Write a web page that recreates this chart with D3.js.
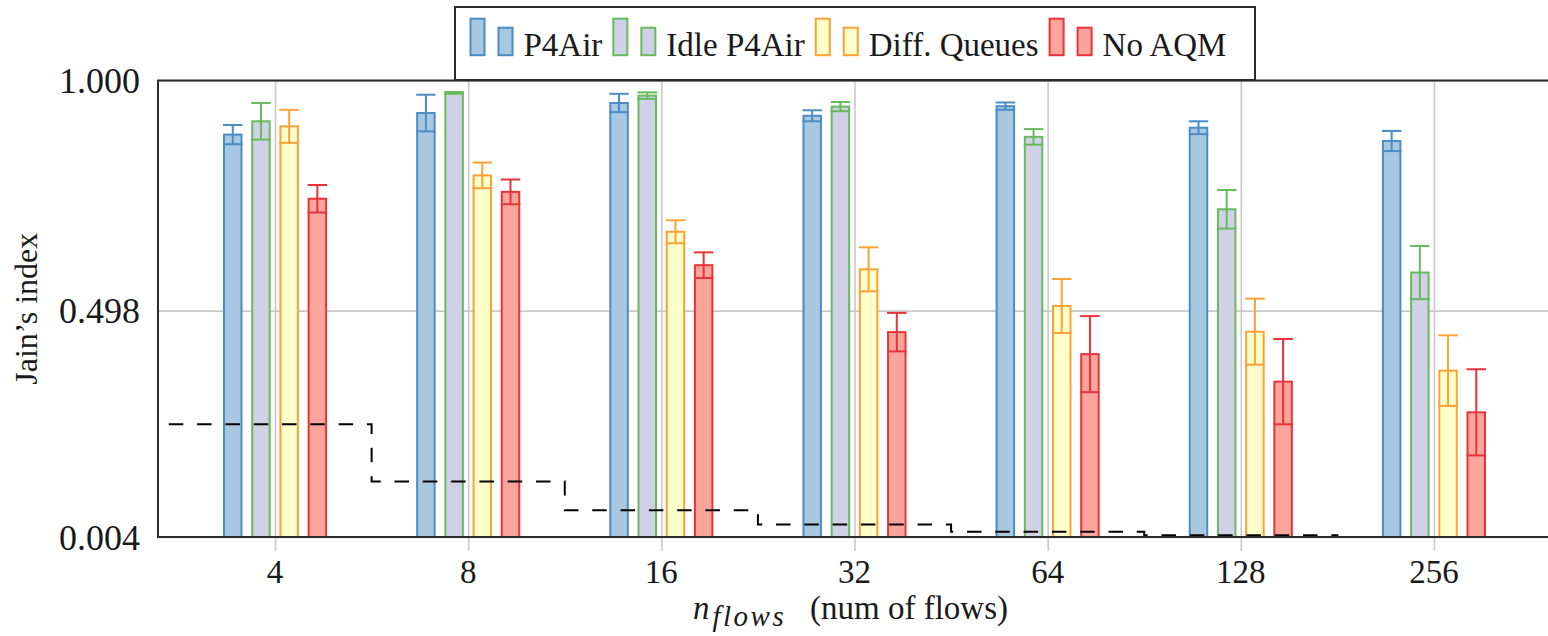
<!DOCTYPE html>
<html>
<head>
<meta charset="utf-8">
<script src="https://cdn.jsdelivr.net/npm/d3@7"></script>
<style>
  html, body { margin: 0; padding: 0; background: #fff; }
  svg text { font-family: "Liberation Serif", "Times New Roman", Times, "DejaVu Serif", serif; }
</style>
</head>
<body>
<svg id="chart" width="1548" height="636"></svg>
<script>
// Jain's fairness index per number of concurrent flows
const categories = ["4", "8", "16", "32", "64", "128", "256"];
const seriesNames = ["P4Air", "Idle P4Air", "Diff. Queues", "No AQM"];

const p4air     = [0.882, 0.929, 0.951, 0.923, 0.944, 0.897, 0.868];
const p4airErr  = [0.021, 0.040, 0.020, 0.012, 0.008, 0.014, 0.022];
const idle      = [0.911, 0.973, 0.967, 0.943, 0.877, 0.719, 0.581];
const idleErr   = [0.040, 0.002, 0.007, 0.010, 0.017, 0.042, 0.058];
const diffq     = [0.900, 0.793, 0.670, 0.588, 0.508, 0.452, 0.367];
const diffqErr  = [0.036, 0.028, 0.025, 0.048, 0.059, 0.072, 0.077];
const noaqm     = [0.742, 0.757, 0.597, 0.451, 0.403, 0.343, 0.276];
const noaqmErr  = [0.030, 0.027, 0.028, 0.042, 0.083, 0.093, 0.094];

// lower bound of the index (1/n) for each flow count
const fairMin   = [0.25, 0.125, 0.0625, 0.03125, 0.015625, 0.0078125, 0.00390625];

const yTicks = [0.004, 0.498, 1.000];

const styles = [
  { fill: "#a8c8e1", stroke: "#4b8cc5" },
  { fill: "#d0d0e6", stroke: "#67bb5e" },
  { fill: "#ffffcb", stroke: "#ffa032" },
  { fill: "#fca59c", stroke: "#e8333a" }
];

const values = [p4air, idle, diffq, noaqm];
const errors = [p4airErr, idleErr, diffqErr, noaqmErr];

const FONT = "'Liberation Serif', 'Times New Roman', Times, 'DejaVu Serif', serif";
const textColor = "#1a1a1a";

const svg = d3.select("#chart");
const margin = { left: 158, right: 1551, top: 80.5, bottom: 537 };

const x = d3.scalePoint().domain(categories).range([margin.left, margin.right]).padding(0.606);
const step = x.step();
const xs = d3.scaleBand().domain(seriesNames).range([-step * 0.292, step * 0.292])
  .paddingInner(0.38).paddingOuter(0.19);
const y = d3.scaleLinear().domain([0.004, 1.0]).range([margin.bottom, margin.top]);

const gridColor = "#c9c9c9";

// clip region for the plot
svg.append("defs").append("clipPath").attr("id", "plotClip")
  .append("rect")
  .attr("x", margin.left).attr("y", margin.top)
  .attr("width", margin.right - margin.left).attr("height", margin.bottom - margin.top);

// vertical grid + outward tick marks
const xAxis = d3.axisBottom(x).tickSize(-(margin.bottom - margin.top)).tickSizeOuter(0).tickFormat("");
svg.append("g").attr("transform", `translate(0,${margin.bottom})`).call(xAxis)
  .call(g => g.select(".domain").remove())
  .call(g => g.selectAll(".tick line").attr("stroke", gridColor).attr("stroke-width", 1.6)
    .attr("y1", 14));

// horizontal grid
const yGrid = d3.axisLeft(y).tickValues(yTicks).tickSize(-(margin.right - margin.left)).tickFormat("");
svg.append("g").attr("transform", `translate(${margin.left},0)`).call(yGrid)
  .call(g => g.select(".domain").remove())
  .call(g => g.selectAll(".tick line").attr("stroke", gridColor).attr("stroke-width", 1.6));

// bars with error bars
seriesNames.forEach((name, si) => {
  const g = svg.append("g").attr("class", "series");
  const bw = xs.bandwidth();
  const data = categories.map((c, i) => ({ c, v: values[si][i], e: errors[si][i] }));
  g.selectAll("rect").data(data).join("rect")
    .attr("x", d => x(d.c) + xs(name))
    .attr("y", d => y(d.v))
    .attr("width", bw)
    .attr("height", d => y(0.004) - y(d.v))
    .attr("fill", styles[si].fill)
    .attr("stroke", styles[si].stroke)
    .attr("stroke-width", 2);
  const eb = g.selectAll("g.err").data(data).join("g").attr("class", "err")
    .attr("stroke", styles[si].stroke).attr("stroke-width", 2).attr("fill", "none");
  const cx = d => x(d.c) + xs(name) + bw / 2;
  eb.append("line").attr("x1", cx).attr("x2", cx)
    .attr("y1", d => y(d.v + d.e)).attr("y2", d => y(d.v - d.e));
  eb.append("line").attr("x1", d => cx(d) - bw / 2 - 1).attr("x2", d => cx(d) + bw / 2 + 1)
    .attr("y1", d => y(d.v + d.e)).attr("y2", d => y(d.v + d.e));
  eb.append("line").attr("x1", d => cx(d) - bw / 2 - 1).attr("x2", d => cx(d) + bw / 2 + 1)
    .attr("y1", d => y(d.v - d.e)).attr("y2", d => y(d.v - d.e));
});

// 1/n step line
const stepPts = [[x(categories[0]) - step * 0.55, fairMin[0]]];
for (let i = 1; i < categories.length; i++) {
  stepPts.push([(x(categories[i - 1]) + x(categories[i])) / 2, fairMin[i]]);
}
stepPts.push([margin.right, fairMin[fairMin.length - 1]]);
const stepLine = d3.line().x(d => d[0]).y(d => y(d[1])).curve(d3.curveStepAfter);
svg.append("path").attr("clip-path", "url(#plotClip)")
  .attr("d", stepLine(stepPts))
  .attr("fill", "none").attr("stroke", "#000").attr("stroke-width", 2)
  .attr("stroke-dasharray", "14.5,13.8");

// axis frame
const frame = "#2b2b2b";
svg.append("path")
  .attr("d", `M${margin.right},${margin.top}H${margin.left}V${margin.bottom}H${margin.right}`)
  .attr("fill", "none").attr("stroke", frame).attr("stroke-width", 2);

// tick labels
svg.append("g").selectAll("text").data(categories).join("text")
  .attr("font-family", FONT)
  .attr("x", d => x(d)).attr("y", 583)
  .attr("text-anchor", "middle").attr("font-size", 33).attr("fill", textColor)
  .text(d => d);
svg.append("g").selectAll("text").data(yTicks).join("text")
  .attr("font-family", FONT)
  .attr("x", 140).attr("y", d => y(d)).attr("dy", "0.35em")
  .attr("text-anchor", "end").attr("font-size", 36).attr("fill", textColor)
  .text(d => d3.format(".3f")(d));

// axis titles
svg.append("text")
  .attr("font-family", FONT)
  .attr("transform", `translate(37,${(margin.top + margin.bottom) / 2}) rotate(-90)`)
  .attr("text-anchor", "middle").attr("font-size", 32).attr("fill", textColor)
  .text("Jain\u2019s index");

const xl = svg.append("text").attr("font-family", FONT)
  .attr("x", 693).attr("y", 619)
  .attr("font-size", 33).attr("fill", textColor);
xl.append("tspan").attr("font-style", "italic").text("n");
xl.append("tspan").attr("font-style", "italic").attr("font-size", 29)
  .attr("letter-spacing", 2.5).attr("dx", 3).attr("dy", 7).text("flows");
xl.append("tspan").attr("x", 810).attr("dy", -7).text("(num of flows)");

// legend
const leg = svg.append("g");
leg.append("rect")
  .attr("x", 455).attr("y", 7).attr("width", 800).attr("height", 73)
  .attr("fill", "#fff").attr("stroke", frame).attr("stroke-width", 2);
let cursor = 470.5;
seriesNames.forEach((name, si) => {
  leg.append("rect").attr("x", cursor).attr("y", 18.7).attr("width", 14).attr("height", 36.5)
    .attr("fill", styles[si].fill).attr("stroke", styles[si].stroke).attr("stroke-width", 2);
  leg.append("rect").attr("x", cursor + 28).attr("y", 27.7).attr("width", 14).attr("height", 27.5)
    .attr("fill", styles[si].fill).attr("stroke", styles[si].stroke).attr("stroke-width", 2);
  const t = leg.append("text").attr("font-family", FONT).attr("x", cursor + 53).attr("y", 55.5)
    .attr("font-size", 33).attr("fill", textColor).text(name);
  cursor += 53 + t.node().getComputedTextLength() + 11;
});
</script>
</body>
</html>
